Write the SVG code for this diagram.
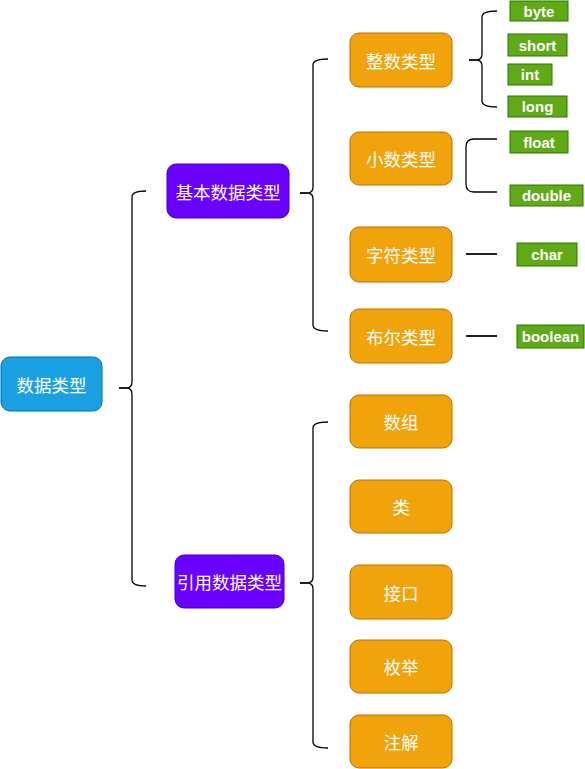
<svg xmlns="http://www.w3.org/2000/svg" width="585" height="769" viewBox="0 0 585 769">
<style>
.t{font-family:"Noto Sans CJK SC","Liberation Sans",sans-serif;font-size:17.5px;fill:#fff;text-anchor:middle;dominant-baseline:central}
.g{font-family:"Liberation Sans",Arial,sans-serif;font-size:15px;font-weight:bold;fill:#fff;text-anchor:middle;dominant-baseline:central}
.root{fill:#1BA1E2;stroke:#006EAF}
.pur{fill:#6A00FF;stroke:#3700CC}
.org{fill:#F0A30A;stroke:#BD7000}
.grn{fill:#60A917;stroke:#2D7600}
.br{fill:none;stroke:#000;stroke-width:1.3}
.tk{fill:none;stroke:#222;stroke-width:2}
</style>
<rect width="585" height="769" fill="#fff"/>
<g id="connectors">
<path class="br" d="M146,191 Q132,191 132,197 L132,382 Q132,388 126,388 Q132,388 132,394 L132,580 Q132,586 146,586"/>
<line class="tk" x1="119" y1="388" x2="128" y2="388"/>
<path class="br" d="M328,59 Q313,59 313,65 L313,187 Q313,193 307,193 Q313,193 313,199 L313,325 Q313,331 328,331"/>
<line class="tk" x1="300" y1="193" x2="309" y2="193"/>
<path class="br" d="M497,11 Q482,11 482,17 L482,54 Q482,60 476,60 Q482,60 482,66 L482,101 Q482,107 497,107"/>
<line class="tk" x1="469" y1="60" x2="478" y2="60"/>
<path class="br" d="M497,139 L474,139 Q466,139 466,147 L466,184 Q466,192 474,192 L497,192"/>
<path class="br" d="M328,422 Q313,422 313,428 L313,577 Q313,583 307,583 Q313,583 313,589 L313,742 Q313,748 328,748"/>
<line class="tk" x1="300" y1="583" x2="309" y2="583"/>
<line class="tk" x1="466" y1="254" x2="497" y2="254"/>
<line class="tk" x1="466" y1="336" x2="497" y2="336"/>
</g>
<g id="root"><rect class="root" x="1" y="357" width="101" height="54" rx="9"/><text class="t" x="51.5" y="384">数据类型</text></g>
<g id="basic"><rect class="pur" x="167" y="164" width="122" height="54" rx="9"/><text class="t" x="228" y="191">基本数据类型</text></g>
<g id="ref"><rect class="pur" x="175" y="555" width="109" height="53" rx="9"/><text class="t" x="229.5" y="581.5">引用数据类型</text></g>
<g id="int-type"><rect class="org" x="350" y="33" width="102" height="54" rx="9"/><text class="t" x="401" y="60">整数类型</text></g>
<g id="float-type"><rect class="org" x="350" y="132" width="102" height="53" rx="9"/><text class="t" x="401" y="158.5">小数类型</text></g>
<g id="char-type"><rect class="org" x="350" y="227" width="102" height="55" rx="9"/><text class="t" x="401" y="254.5">字符类型</text></g>
<g id="bool-type"><rect class="org" x="350" y="309" width="102" height="54" rx="9"/><text class="t" x="401" y="336">布尔类型</text></g>
<g id="array"><rect class="org" x="350" y="395" width="102" height="53" rx="9"/><text class="t" x="401" y="421.5">数组</text></g>
<g id="class"><rect class="org" x="350" y="480" width="102" height="53" rx="9"/><text class="t" x="401" y="506.5">类</text></g>
<g id="interface"><rect class="org" x="350" y="565" width="102" height="54" rx="9"/><text class="t" x="401" y="592">接口</text></g>
<g id="enum"><rect class="org" x="350" y="640" width="102" height="53" rx="9"/><text class="t" x="401" y="666.5">枚举</text></g>
<g id="annotation"><rect class="org" x="350" y="715" width="102" height="53" rx="9"/><text class="t" x="401" y="741.5">注解</text></g>
<g id="byte"><rect class="grn" x="510" y="1" width="58" height="20"/><text class="g" x="539" y="11">byte</text></g>
<g id="short"><rect class="grn" x="508" y="34" width="59" height="22"/><text class="g" x="537.5" y="45">short</text></g>
<g id="int"><rect class="grn" x="508" y="64" width="44" height="21"/><text class="g" x="530" y="74.5">int</text></g>
<g id="long"><rect class="grn" x="508" y="96" width="59" height="21"/><text class="g" x="537.5" y="106.5">long</text></g>
<g id="float"><rect class="grn" x="510" y="131" width="58" height="22"/><text class="g" x="539" y="142">float</text></g>
<g id="double"><rect class="grn" x="510" y="185" width="73" height="21"/><text class="g" x="546.5" y="195.5">double</text></g>
<g id="char"><rect class="grn" x="517" y="243" width="60" height="23"/><text class="g" x="547" y="254.5">char</text></g>
<g id="boolean"><rect class="grn" x="517" y="325" width="67" height="23"/><text class="g" x="550.5" y="336.5">boolean</text></g>
</svg>
